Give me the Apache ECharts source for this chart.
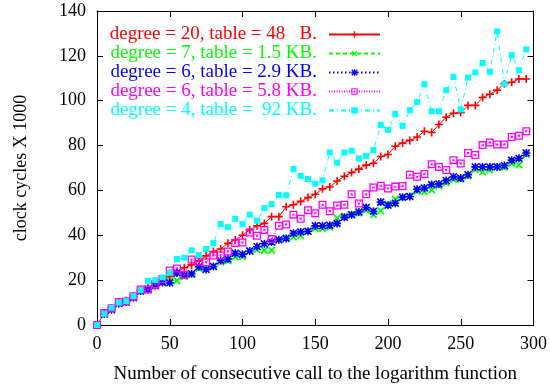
<!DOCTYPE html>
<html><head><meta charset="utf-8">
<script src="https://cdn.jsdelivr.net/npm/echarts@6/dist/echarts.min.js"></script>
<style>html,body{margin:0;padding:0;background:#fff}#c{width:550px;height:389px}</style>
</head><body><div id="c"></div>
<script>
const xs = [0,5,10,15,20,25,30,35,40,45,50,55,60,65,70,75,80,85,90,95,100,105,110,115,120,125,130,135,140,145,150,155,160,165,170,175,180,185,190,195,200,205,210,215,220,225,230,235,240,245,250,255,260,265,270,275,280,285,290,295];
const deg20 = [0,5.2,7.6,10.2,10.8,12.8,15.5,16.6,18.5,20.2, 21.6,23.6,25.5,26.8,28.6,30.8,32.8,33.9,36.4,37.9, 40.0,42.4,44.2,45.3,48.3,48.3,52.7,53.6,55.1,56.8, 58.3,60.7,61.5,64.2,66.3,68.0,69.5,71.3,72.1,75.1, 76.0,79.7,81.1,82.3,83.8,86.4,85.8,89.4,92.6,94.4, 94.7,97.9,97.9,101.4,102.9,104.7,107.6,108.2,109.7,109.7];
const deg7 = [0,4.8,7.0,9.6,10.2,12.3,15.0,15.8,17.8,19.2, 19.8,19.7,21.5,22.4,25.2,25.0,26.2,28.0,28.6,30.3, 30.5,33.0,33.6,33.3,33.3,38.0,38.9,39.2,39.8,41.8, 43.0,43.0,43.6,47.7,48.6,49.2,49.8,51.2,49.2,50.9, 53.9,56.1,57.0,57.3,59.6,59.4,60.2,62.0,63.5,64.9, 64.9,66.4,69.3,68.2,69.1,70.5,70.2,72.0,71.4,76.0];
const deg6a = [0,4.9,6.8,9.6,10.2,12.2,15.2,15.8,17.5,19.0, 18.8,23.2,22.3,22.9,26.0,24.8,26.1,28.8,29.4,32.0, 31.5,33.0,35.0,36.2,37.0,38.0,38.6,40.9,41.5,41.8, 44.2,44.2,44.5,45.3,48.0,49.2,50.4,52.4,50.7,54.8, 53.4,54.3,57.0,57.3,60.5,61.1,62.6,62.9,64.4,66.1, 65.5,67.0,70.5,70.5,70.5,70.5,71.1,73.5,74.3,76.7];
const deg6b = [0,5.4,7.5,10.2,10.5,12.8,15.8,15.8,18.1,20.5, 24.3,25.2,22.4,29.2,28.3,28.0,31.0,31.1,32.8,36.6, 36.8,41.2,39.8,42.4,38.3,44.2,44.8,49.2,47.4,51.2, 49.8,53.6,50.7,53.3,53.6,58.3,54.2,58.3,61.3,62.1, 60.9,61.7,62.0,67.0,66.1,67.3,71.7,70.5,69.1,73.5, 72.0,76.7,75.8,80.2,81.4,80.5,80.5,83.8,84.4,86.4];
const deg4 = [0,5.0,7.7,10.0,10.6,12.9,15.6,19.7,20.0,21.2, 23.3,29.4,30.0,33.3,31.2,33.9,36.5,45.0,43.6,47.3, 45.0,49.2,46.5,52.1,53.9,58.0,57.8,69.6,66.5,65.1, 63.0,64.5,76.9,72.4,76.9,77.7,74.2,75.4,78.0,89.2, 87.0,94.1,88.8,95.8,99.4,107.3,95.3,95.3,104.7,110.6, 96.1,110.3,112.6,116.8,112.9,130.9,107.6,120.3,113.5,122.9];
const seriesNames = ['degree = 20, table = 48   B.', 'degree = 7, table = 1.5 KB.', 'degree = 6, table = 2.9 KB.', 'degree = 6, table = 5.8 KB.', 'degree = 4, table =  92 KB.'];
const xTicks = [0,50,100,150,200,250,300];
const yTicks = [0,20,40,60,80,100,120,140];
const xTitle = 'Number of consecutive call to the logarithm function';
const yTitle = 'clock cycles X 1000';

const allValues = [deg20, deg7, deg6a, deg6b, deg4];
const colors = ['#ff0000','#00ff00','#0000ff','#ff00ff','#00ffff'];
const PLUS = 'path://M4,0H6V4H10V6H6V10H4V6H0V4H4Z';
const STAR = 'path://M4,0H6V4H10V6H6V10H4V6H0V4H4Z M1.4,0L5,3.6L8.6,0L10,1.4L6.4,5L10,8.6L8.6,10L5,6.4L1.4,10L0,8.6L3.6,5L0,1.4Z';
const BOXDOT = 'path://M0,0H10V10H0Z M1.6,1.6V8.4H8.4V1.6Z M3.8,3.8H6.2V6.2H3.8Z';
const styles = [
  {symbol: PLUS, size: 8, rot: 0, dash: 'solid'},
  {symbol: PLUS, size: 9, rot: 45, dash: [4,3]},
  {symbol: STAR, size: 8, rot: 0, dash: [1.5,2.5]},
  {symbol: BOXDOT, size: 8, rot: 0, dash: [1,1.5]},
  {symbol: 'rect', size: 6, rot: 0, dash: [5,3,1,3]}
];
const FONT = 'Liberation Serif';

const series = allValues.map((vals, i) => ({
  name: seriesNames[i],
  type: 'line',
  data: xs.map((x, k) => [x, vals[k]]),
  symbol: styles[i].symbol,
  symbolSize: styles[i].size,
  symbolRotate: styles[i].rot,
  showSymbol: true,
  itemStyle: {color: colors[i]},
  lineStyle: {color: colors[i], width: 1, type: styles[i].dash},
  emphasis: {disabled: true},
  animation: false
}));

const rich = {};
seriesNames.forEach((n, i) => {
  rich['s' + i] = {color: colors[i], width: 212, align: 'right', padding: [0, 7, 0, 0], lineHeight: 19, height: 19, fontFamily: FONT, fontSize: 19};
});

const axisCommon = {
  axisLine: {show: true, onZero: false, lineStyle: {color: '#000', width: 1}},
  axisTick: {show: true, inside: true, length: 6, lineStyle: {color: '#000'}},
  splitLine: {show: false}
};

const chart = echarts.init(document.getElementById('c'), null, {renderer: 'canvas'});
chart.setOption({
  backgroundColor: '#fff',
  animation: false,
  grid: {left: 97, right: 15, top: 11, bottom: 61},
  legend: {
    orient: 'vertical', right: 169, top: 25, padding: 0, align: 'right',
    itemWidth: 51, itemHeight: 8, itemGap: 0, selectedMode: false,
    data: seriesNames,
    formatter: n => '{s' + seriesNames.indexOf(n) + '|' + n + '}',
    textStyle: {fontFamily: FONT, fontSize: 19, lineHeight: 19, rich: rich}
  },
  xAxis: [
    Object.assign({}, axisCommon, {
      type: 'value', min: xTicks[0], max: xTicks[xTicks.length-1], interval: xTicks[1]-xTicks[0], position: 'bottom',
      axisLabel: {color: '#000', fontFamily: FONT, fontSize: 18, margin: 10},
      name: xTitle, nameLocation: 'middle', nameGap: 40,
      nameTextStyle: {color: '#000', fontFamily: FONT, fontSize: 19}
    }),
    Object.assign({}, axisCommon, {
      type: 'value', min: xTicks[0], max: xTicks[xTicks.length-1], interval: xTicks[1]-xTicks[0], position: 'top',
      axisLabel: {show: false}
    })
  ],
  yAxis: [
    Object.assign({}, axisCommon, {
      type: 'value', min: yTicks[0], max: yTicks[yTicks.length-1], interval: yTicks[1]-yTicks[0], position: 'left',
      axisLabel: {color: '#000', fontFamily: FONT, fontSize: 18, margin: 11},
      name: yTitle, nameLocation: 'middle', nameGap: 67, nameRotate: 90,
      nameTextStyle: {color: '#000', fontFamily: FONT, fontSize: 18}
    }),
    Object.assign({}, axisCommon, {
      type: 'value', min: yTicks[0], max: yTicks[yTicks.length-1], interval: yTicks[1]-yTicks[0], position: 'right',
      axisLabel: {show: false}
    })
  ],
  series: series
});
</script>
</body></html>
